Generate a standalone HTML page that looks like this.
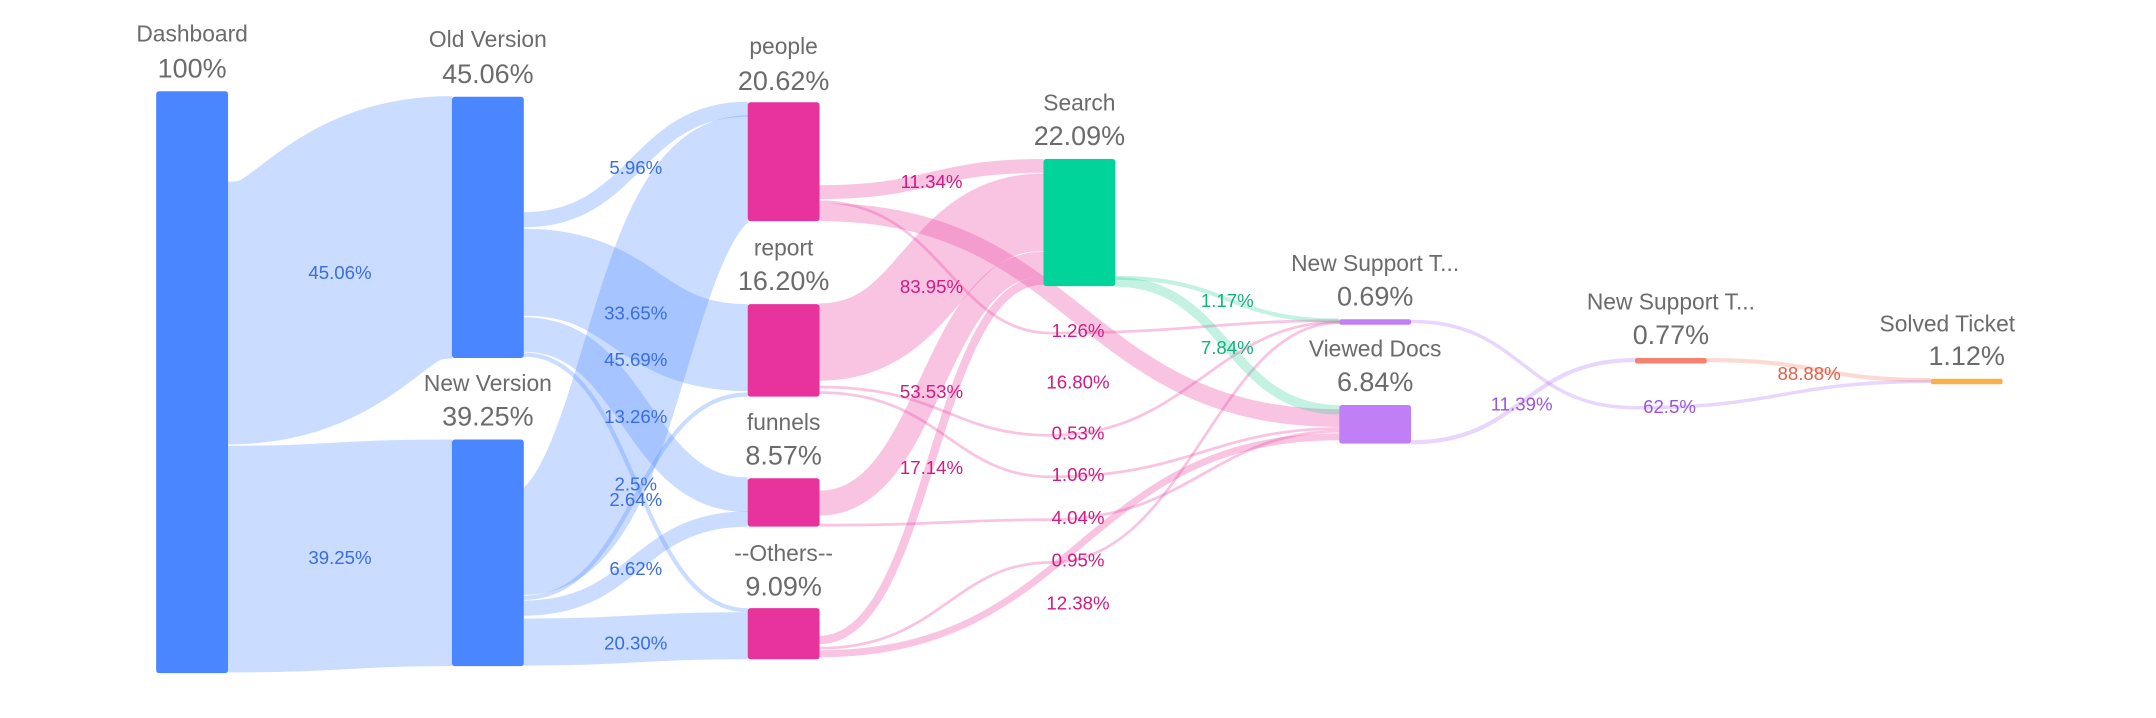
<!DOCTYPE html>
<html><head><meta charset="utf-8"><style>
html,body{margin:0;padding:0;background:#fff;}
svg{display:block;font-family:"Liberation Sans",sans-serif;}
.n{fill:#6b6b6b;font-size:16.5px;text-anchor:middle;}
.p{fill:#6b6b6b;font-size:19.5px;text-anchor:middle;}
.l{font-size:13.5px;text-anchor:middle;}
.b{fill:#3a6ee0}.k{fill:#d01a84}.g{fill:#14b07c}.u{fill:#9a55e0}.s{fill:#e0604a}
path{fill:none;}
.bl{stroke:rgba(90,145,255,0.32);}
.pk{stroke:rgba(236,70,165,0.32);}
.gr{stroke:rgba(40,210,150,0.28);}
.pu{stroke:rgba(180,120,250,0.3);}
.sa{stroke:rgba(245,130,110,0.3);}
</style></head><body>
<svg width="2156" height="718" viewBox="0 0 1560 519.5" xmlns="http://www.w3.org/2000/svg">
<!-- blue links -->
<path class="bl" stroke-width="190" d="M165,226.5 C246,226.5 246,164.5 327,164.5"/>
<path class="bl" stroke-width="164" d="M165,404.5 C246,404.5 246,400 327,400"/>
<path class="bl" stroke-width="11" d="M379,159 C460,159 460,79 541,79"/>
<path class="bl" stroke-width="63" d="M379,197 C460,197 460,251.5 541,251.5"/>
<path class="bl" stroke-width="25" d="M379,242 C460,242 460,358 541,358"/>
<path class="bl" stroke-width="3" d="M379,256.5 C460,256.5 460,441.5 541,441.5"/>
<path class="bl" stroke-width="77" d="M379,392 C460,392 460,122 541,122"/>
<path class="bl" stroke-width="3" d="M379,432.5 C460,432.5 460,285.5 541,285.5"/>
<path class="bl" stroke-width="11" d="M379,440 C460,440 460,375.5 541,375.5"/>
<path class="bl" stroke-width="34" d="M379,464.5 C460,464.5 460,460 541,460"/>
<!-- pink links -->
<path class="pk" stroke-width="10" d="M593,139 C674,139 674,120 755,120"/>
<path class="pk" stroke-width="2" d="M593,146 C680,146 690,241 760,241 C860,241 880,232 969,232"/>
<path class="pk" stroke-width="13" d="M593,153.5 C781,153.5 781,302.5 969,302.5"/>
<path class="pk" stroke-width="56" d="M593,247.5 C674,247.5 674,153.5 755,153.5"/>
<path class="pk" stroke-width="2" d="M593,280 C680,280 690,315 760,315 C860,315 880,233 969,233"/>
<path class="pk" stroke-width="2" d="M593,284 C680,284 690,345 760,345 C860,345 880,310 969,310"/>
<path class="pk" stroke-width="18" d="M593,364 C674,364 674,191 755,191"/>
<path class="pk" stroke-width="2" d="M593,380 C680,380 690,376 760,376 C860,376 880,312 969,312"/>
<path class="pk" stroke-width="6" d="M593,463 C674,463 674,203 755,203"/>
<path class="pk" stroke-width="2" d="M593,469 C680,469 690,407 760,407 C860,407 880,233.5 969,233.5"/>
<path class="pk" stroke-width="5" d="M593,473 C781,473 781,316 969,316"/>
<!-- green -->
<path class="gr" stroke-width="3" d="M807,201 C888,201 888,232 969,232"/>
<path class="gr" stroke-width="7" d="M807,204 C888,204 888,296.5 969,296.5"/>
<!-- purple -->
<path class="pu" stroke-width="2.5" d="M1021,232.5 C1102,232.5 1102,295 1183,295 C1290,295 1290,276 1397,276"/>
<path class="pu" stroke-width="3" d="M1021,320 C1102,320 1102,260.5 1183,260.5"/>
<path class="sa" stroke-width="3" d="M1235,260.5 C1316,260.5 1316,275 1397,275"/>
<!-- nodes -->
<g>
<rect x="113" y="66" width="52" height="421" rx="2" fill="#4a86ff"/>
<rect x="327" y="70" width="52" height="189" rx="2" fill="#4a86ff"/>
<rect x="327" y="318" width="52" height="164" rx="2" fill="#4a86ff"/>
<rect x="541" y="74" width="52" height="86" rx="2" fill="#e8339c"/>
<rect x="541" y="220" width="52" height="67" rx="2" fill="#e8339c"/>
<rect x="541" y="346" width="52" height="35" rx="2" fill="#e8339c"/>
<rect x="541" y="440" width="52" height="37" rx="2" fill="#e8339c"/>
<rect x="755" y="115" width="52" height="92" rx="2" fill="#00d49b"/>
<rect x="969" y="231" width="52" height="4" rx="1.5" fill="#c17ff5"/>
<rect x="969" y="293" width="52" height="28" rx="2" fill="#c17ff5"/>
<rect x="1183" y="259" width="52" height="4" rx="1.5" fill="#f4826f"/>
<rect x="1397" y="274" width="52" height="4" rx="1.5" fill="#f8b04a"/>
</g>
<!-- node labels -->
<text class="n" x="139" y="30">Dashboard</text><text class="p" x="139" y="56">100%</text>
<text class="n" x="353" y="34">Old Version</text><text class="p" x="353" y="60">45.06%</text>
<text class="n" x="353" y="283">New Version</text><text class="p" x="353" y="308">39.25%</text>
<text class="n" x="567" y="39">people</text><text class="p" x="567" y="65">20.62%</text>
<text class="n" x="567" y="185">report</text><text class="p" x="567" y="210">16.20%</text>
<text class="n" x="567" y="311">funnels</text><text class="p" x="567" y="336">8.57%</text>
<text class="n" x="567" y="406">--Others--</text><text class="p" x="567" y="431">9.09%</text>
<text class="n" x="781" y="80">Search</text><text class="p" x="781" y="105">22.09%</text>
<text class="n" x="995" y="196">New Support T...</text><text class="p" x="995" y="221">0.69%</text>
<text class="n" x="995" y="258">Viewed Docs</text><text class="p" x="995" y="283">6.84%</text>
<text class="n" x="1209" y="224">New Support T...</text><text class="p" x="1209" y="249">0.77%</text>
<text class="n" x="1409" y="240">Solved Ticket</text><text class="p" x="1423" y="264">1.12%</text>
<!-- link labels -->
<g class="l">
<text class="b" x="246" y="202">45.06%</text>
<text class="b" x="246" y="408">39.25%</text>
<text class="b" x="460" y="126">5.96%</text>
<text class="b" x="460" y="231">33.65%</text>
<text class="b" x="460" y="265">45.69%</text>
<text class="b" x="460" y="306">13.26%</text>
<text class="b" x="460" y="355">2.5%</text>
<text class="b" x="460" y="366">2.64%</text>
<text class="b" x="460" y="416">6.62%</text>
<text class="b" x="460" y="470">20.30%</text>
<text class="k" x="674" y="136">11.34%</text>
<text class="k" x="674" y="212">83.95%</text>
<text class="k" x="674" y="288">53.53%</text>
<text class="k" x="674" y="343">17.14%</text>
<text class="k" x="780" y="244">1.26%</text>
<text class="k" x="780" y="281">16.80%</text>
<text class="k" x="780" y="318">0.53%</text>
<text class="k" x="780" y="348">1.06%</text>
<text class="k" x="780" y="379">4.04%</text>
<text class="k" x="780" y="410">0.95%</text>
<text class="k" x="780" y="441">12.38%</text>
<text class="g" x="888" y="222">1.17%</text>
<text class="g" x="888" y="256">7.84%</text>
<text class="u" x="1101" y="297">11.39%</text>
<text class="u" x="1208" y="299">62.5%</text>
<text class="s" x="1309" y="275">88.88%</text>
</g>
</svg>
</body></html>
